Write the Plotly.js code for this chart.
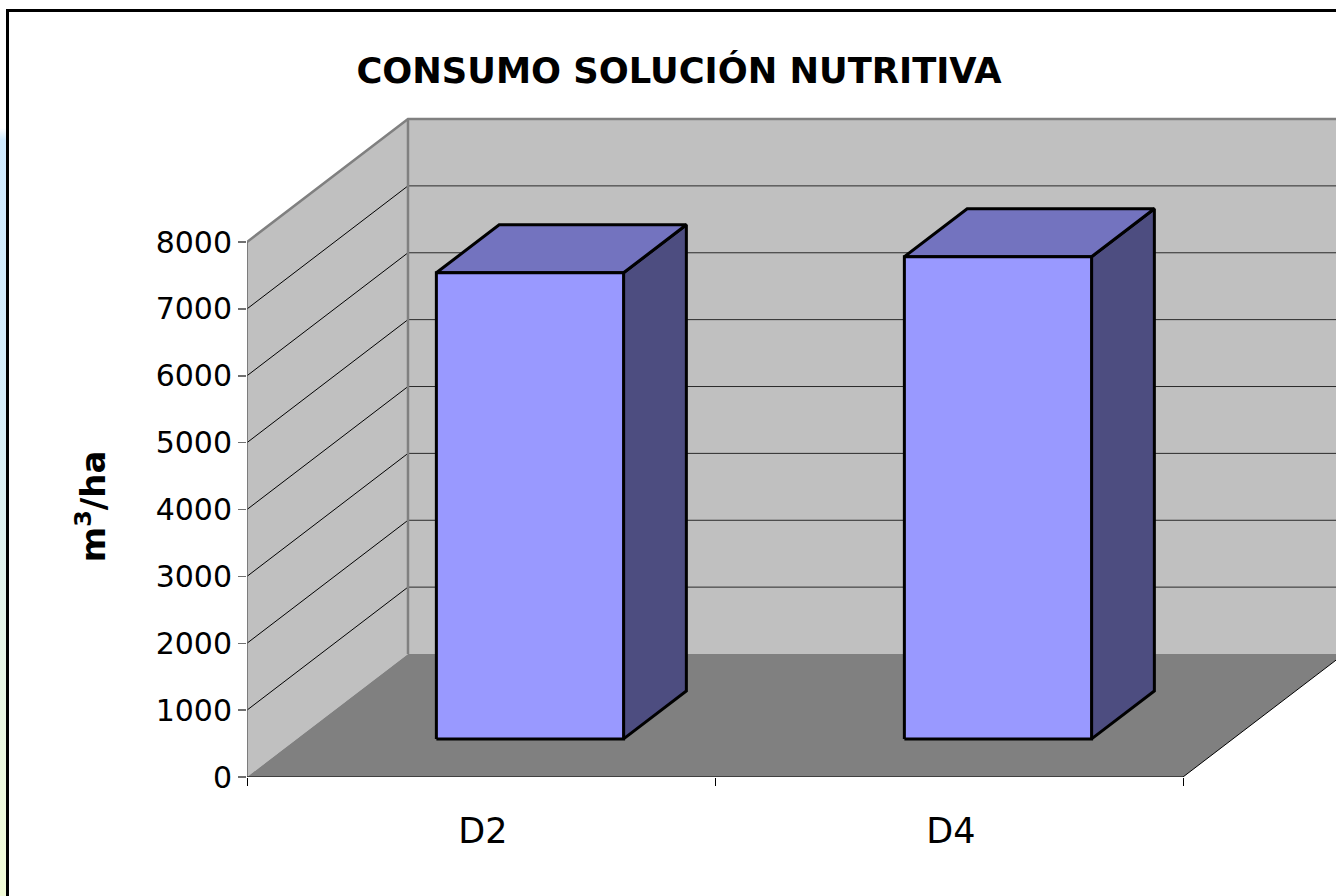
<!DOCTYPE html>
<html>
<head>
<meta charset="utf-8">
<script src="https://cdn.plot.ly/plotly-3.0.1.min.js"></script>
<style>
html,body{margin:0;padding:0;width:1336px;height:896px;overflow:hidden;
background:linear-gradient(to bottom,#ffffff 0,#ffffff 128px,#cfeaff 140px,#d6eefa 400px,#e6f5e8 640px,#f2fcd6 896px);}
#frame{position:absolute;left:6px;top:9px;width:1330px;height:887px;border-left:3px solid #000;border-top:3px solid #000;background:#fff;box-sizing:border-box;}
#chart{position:absolute;left:0;top:0;width:1327px;height:884px;}
</style>
</head>
<body>
<div id="frame"><div id="chart"></div></div>
<script>
const categories = ['D2', 'D4'];
const values = [6970, 7210];
const yTicks = [0, 1000, 2000, 3000, 4000, 5000, 6000, 7000, 8000];
const titleText = 'CONSUMO SOLUCIÓN NUTRITIVA';
const yTitle = 'm<sup>3</sup>/ha';

const DX = 0.344, DY = 1839;        // full chart depth in axis units
const GAP = 0.298, BAR = 0.4;       // bar position in a category slot
const D0 = 0.31, D1 = 0.7;          // bar position in depth
const yMax = 8000;
const lastX = categories.length;
const pt = (x, y, d) => [x + d * DX, y + d * DY];

function poly(points, fill, lineColor, lineWidth) {
  const closed = points.concat([points[0]]);
  return {
    type: 'scatter', mode: 'lines', hoverinfo: 'skip', showlegend: false, cliponaxis: false,
    x: closed.map(p => p[0]), y: closed.map(p => p[1]),
    fill: 'toself', fillcolor: fill,
    line: {color: lineColor || fill, width: lineWidth === undefined ? 0 : lineWidth, shape: 'linear'}
  };
}
function path(points, color, width) {
  return {
    type: 'scatter', mode: 'lines', hoverinfo: 'skip', showlegend: false, cliponaxis: false,
    x: points.map(p => p[0]), y: points.map(p => p[1]),
    line: {color: color, width: width}
  };
}

const traces = [];
// walls and floor
traces.push(poly([pt(0, 0, 0), pt(0, 0, 1), pt(0, yMax, 1), pt(0, yMax, 0)], '#c0c0c0'));
traces.push(poly([pt(0, 0, 1), pt(lastX, 0, 1), pt(lastX, yMax, 1), pt(0, yMax, 1)], '#c0c0c0'));
traces.push(poly([pt(0, 0, 0), pt(lastX, 0, 0), pt(lastX, 0, 1), pt(0, 0, 1)], '#808080'));
// gridlines
yTicks.slice(1, -1).forEach(v => {
  traces.push(path([pt(0, v, 0), pt(0, v, 1)], '#000000', 1));
  traces.push(path([pt(0, v, 1), pt(lastX, v, 1)], '#2a2a2a', 1));
});
// wall edges
traces.push(path([pt(0, yMax, 0), pt(0, yMax, 1), pt(lastX, yMax, 1)], '#808080', 2.5));
traces.push(path([pt(0, 0, 1), pt(0, yMax, 1)], '#808080', 2.5));
traces.push(path([pt(0, 0, 0), pt(0, yMax, 0)], '#666666', 1.5));
traces.push(path([pt(0, 0, 0), pt(lastX, 0, 0), pt(lastX, 0, 1)], '#000000', 1));
// bars
categories.forEach((c, i) => {
  const x0 = i + GAP, x1 = i + GAP + BAR, v = values[i];
  traces.push(poly([pt(x1, 0, D0), pt(x1, 0, D1), pt(x1, v, D1), pt(x1, v, D0)], '#4d4d80', '#000000', 3));
  traces.push(poly([pt(x0, v, D0), pt(x1, v, D0), pt(x1, v, D1), pt(x0, v, D1)], '#7373bf', '#000000', 3));
  traces.push(poly([pt(x0, 0, D0), pt(x1, 0, D0), pt(x1, v, D0), pt(x0, v, D0)], '#9999ff', '#000000', 3));
});

const font = 'DejaVu Sans, sans-serif';
const layout = {
  width: 1327, height: 884,
  margin: {l: 238, r: 0, t: 88, b: 119, pad: 0},
  paper_bgcolor: '#ffffff', plot_bgcolor: 'rgba(0,0,0,0)',
  showlegend: false,
  title: {
    text: '<b>' + titleText + '</b>',
    font: {family: font, size: 35.3, color: '#000'},
    x: 670 / 1327, xanchor: 'center', xref: 'container',
    y: 1 - 59 / 884, yanchor: 'middle', yref: 'container'
  },
  xaxis: {
    range: [0, 1089 / 468], fixedrange: true, zeroline: false, showgrid: false, showline: false,
    tickmode: 'array', tickvals: categories.map((c, i) => i + 0.504), ticktext: categories,
    ticks: '', ticklabelstandoff: 30,
    tickfont: {family: font, size: 35, color: '#000'},
    minor: {tickmode: 'array', tickvals: [0, 1, 2], ticks: 'outside', ticklen: 8, tickcolor: '#000', tickwidth: 1, showgrid: false}
  },
  yaxis: {
    range: [0, 677 / (535 / 8000)], fixedrange: true, zeroline: false, showgrid: false, showline: false,
    tickmode: 'array', tickvals: yTicks, ticktext: yTicks.map(String),
    ticks: 'outside', ticklen: 8, tickwidth: 1.5, tickcolor: '#707070',
    tickfont: {family: font, size: 30, color: '#000'}
  },
  annotations: [{
    text: '<b>' + yTitle + '</b>', textangle: -90, showarrow: false,
    xref: 'paper', x: -156 / 1089, xanchor: 'center',
    yref: 'y', y: 4050, yanchor: 'middle',
    font: {family: font, size: 34, color: '#000'}
  }]
};
Plotly.newPlot('chart', traces, layout, {displayModeBar: false, staticPlot: true});
</script>
</body>
</html>
